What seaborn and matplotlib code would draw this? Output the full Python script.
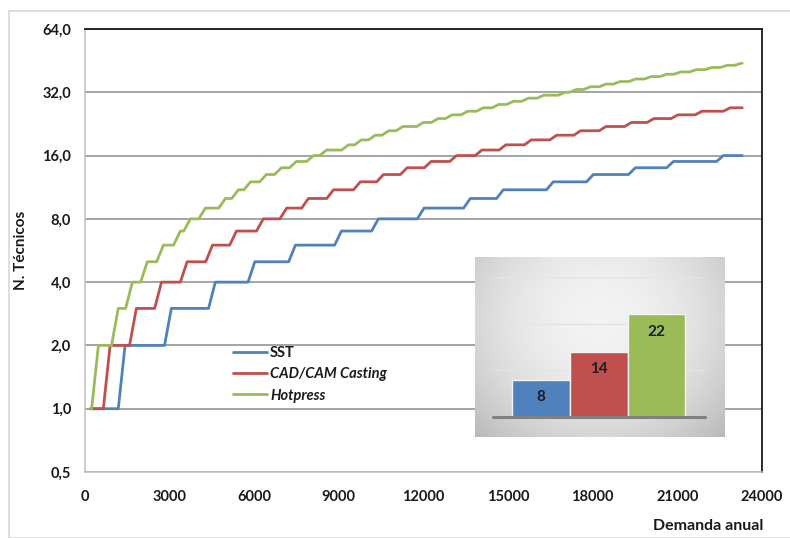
import numpy as np
import pandas as pd
import matplotlib
matplotlib.use("Agg")
import matplotlib.pyplot as plt
from matplotlib.ticker import NullLocator
from matplotlib.patches import Rectangle
import seaborn as sns

# ---------------- data ----------------
series_names = ["SST", "CAD/CAM Casting", "Hotpress"]
demand_start = 200
demand_end = 23300
# demand at which each series steps up by one technician (1->2, 2->3, ...)
sst_steps = [1300, 2940, 4500, 5900, 7340, 8970, 10280, 11900, 13540, 14710,
             16480, 17900, 19390, 20740, 22510]
cad_steps = [770, 1700, 2590, 3500, 4400, 5250, 6200, 7030, 7800, 8690,
             9640, 10460, 11300, 12150, 13050, 13950, 14800, 15700, 16600,
             17450, 18350, 19250, 20050, 20900, 21750, 22750]
hot_steps = [355, 1060, 1560, 2090, 2660, 3260, 3620, 4150, 4860, 5320,
             5750, 6310, 6840, 7370, 7980, 8440, 9220, 9680, 10170, 10650,
             11150, 11880, 12400, 12900, 13450, 14000, 14550, 15070, 15600,
             16150, 16900, 17300, 17800, 18350, 18850, 19400, 19950, 20500,
             21000, 21550, 22100, 22650, 23150]
y_ticks = [0.5, 1, 2, 4, 8, 16, 32, 64]
y_tick_labels = ["0,5", "1,0", "2,0", "4,0", "8,0", "16,0", "32,0", "64,0"]
x_ticks = [0, 3000, 6000, 9000, 12000, 15000, 18000, 21000, 24000]

bar_labels = ["SST", "CAD/CAM Casting", "Hotpress"]
bar_values = [8, 14, 22]

colors = ["#4F81BD", "#C0504D", "#9BBB59"]

# ---------------- build step table ----------------
ramp = 120
rows = []
for name, steps in zip(series_names, [sst_steps, cad_steps, hot_steps]):
    level = 1
    rows.append((name, demand_start, level))
    for b in steps:
        rows.append((name, b - ramp, level))
        level += 1
        rows.append((name, b + ramp, level))
    rows.append((name, demand_end, level))
df = pd.DataFrame(rows, columns=["Serie", "Demanda", "Tecnicos"])

# ---------------- figure ----------------
sns.set_style("white")
plt.rcParams["font.family"] = ["Lato", "DejaVu Sans"]
W, H = 790, 538
fig = plt.figure(figsize=(W / 100, H / 100), dpi=100)

# outer chart frame
fig.patches.append(Rectangle((9 / W, 0), 1.0, 1 - 11 / H, transform=fig.transFigure,
                             fill=False, edgecolor="#d9d9d9", lw=1.2, zorder=0))

ax = fig.add_axes([85 / W, 1 - 472 / H, 677 / W, 443 / H])
sns.lineplot(data=df, x="Demanda", y="Tecnicos", hue="Serie", palette=colors,
             hue_order=series_names, estimator=None, sort=False, lw=2.0,
             ax=ax, legend=True)
for ln in ax.get_lines():
    ln.set_solid_joinstyle("round")

ax.set_yscale("log", base=2)
ax.set_ylim(0.5, 64)
ax.set_yticks(y_ticks)
ax.set_yticklabels(y_tick_labels)
ax.yaxis.set_minor_locator(NullLocator())
ax.set_xlim(0, 24000)
ax.set_xticks(x_ticks)
ax.set_xticklabels([str(v) for v in x_ticks])
ax.tick_params(axis="both", length=0, labelsize=10.5, colors="#1a1a1a")
ax.tick_params(axis="y", pad=10)
ax.tick_params(axis="x", pad=13)
for lab in ax.get_xticklabels() + ax.get_yticklabels():
    lab.set_fontweight("bold")

ax.grid(axis="y", color="#8c8c8c", lw=1.1)
ax.grid(axis="x", visible=False)
ax.set_axisbelow(True)
ax.spines["top"].set_color("#1a1a1a")
ax.spines["top"].set_linewidth(1.3)
ax.spines["right"].set_color("#1a1a1a")
ax.spines["right"].set_linewidth(1.3)
ax.spines["left"].set_color("#c0c0c0")
ax.spines["bottom"].set_color("#c0c0c0")
for s in ["left", "bottom"]:
    ax.spines[s].set_linewidth(1.1)

ax.set_ylabel("N. Técnicos", fontsize=11, fontweight="bold", color="#1a1a1a")
ax.yaxis.set_label_coords((28 - 85) / 677, 0.5)
ax.set_xlabel("Demanda anual", fontsize=11.5, fontweight="bold", color="#1a1a1a")
ax.xaxis.set_label_coords((708 - 85) / 677, -(519 - 472) / 443)

handles, labels = ax.get_legend_handles_labels()
leg = ax.legend(handles, labels, loc="upper left",
                bbox_to_anchor=((233 - 85) / 677, (472 - 346) / 443),
                frameon=False, fontsize=10.5, handlelength=2.3,
                handletextpad=0.25, labelspacing=0.5, borderpad=0,
                borderaxespad=0)
for i, t in enumerate(leg.get_texts()):
    t.set_fontweight("bold")
    t.set_color("#1a1a1a")
    if i > 0:
        t.set_fontstyle("italic")
for lh in leg.get_lines():
    lh.set_linewidth(2.0)

# ---------------- inset bar chart ----------------
bg = fig.add_axes([475 / W, 1 - 437 / H, 250 / W, 180 / H])
gy, gx = np.mgrid[0:1:180j, 0:1:250j]
r2 = ((gx - 0.5) / 0.7) ** 2 + ((gy - 0.35) / 0.9) ** 2
shade = 0.95 - 0.22 * r2
bg.imshow(shade, cmap="gray", vmin=0, vmax=1, aspect="auto",
          extent=(0, 1, 0, 1), origin="upper", interpolation="bilinear")
bg.set_axis_off()

iax = fig.add_axes([493 / W, 1 - 417 / H, 212 / W, 140 / H])
iax.patch.set_alpha(0)
sns.barplot(x=bar_labels, y=bar_values, hue=bar_labels, palette=colors,
            legend=False, width=1.0, edgecolor="#f4f4f4", linewidth=1.0,
            saturation=1, ax=iax)
iax.set_xlim(-0.83, 2.84)
iax.set_ylim(0, 30)
iax.set_yticks([10, 20, 30])
iax.grid(axis="y", color="#e4e4e4", lw=1.0)
iax.set_axisbelow(True)
for s in iax.spines.values():
    s.set_visible(False)
iax.axhline(0, color="#808080", lw=2.2, clip_on=False)
iax.set_xticks([])
iax.set_yticklabels([])
iax.tick_params(length=0)
iax.set_xlabel("")
iax.set_ylabel("")
for i, v in enumerate(bar_values):
    iax.text(i, v - 3.7, str(v), ha="center", va="center", fontsize=11,
             fontweight="bold", color="#1c1c28")

fig.savefig("out.png", dpi=100)
